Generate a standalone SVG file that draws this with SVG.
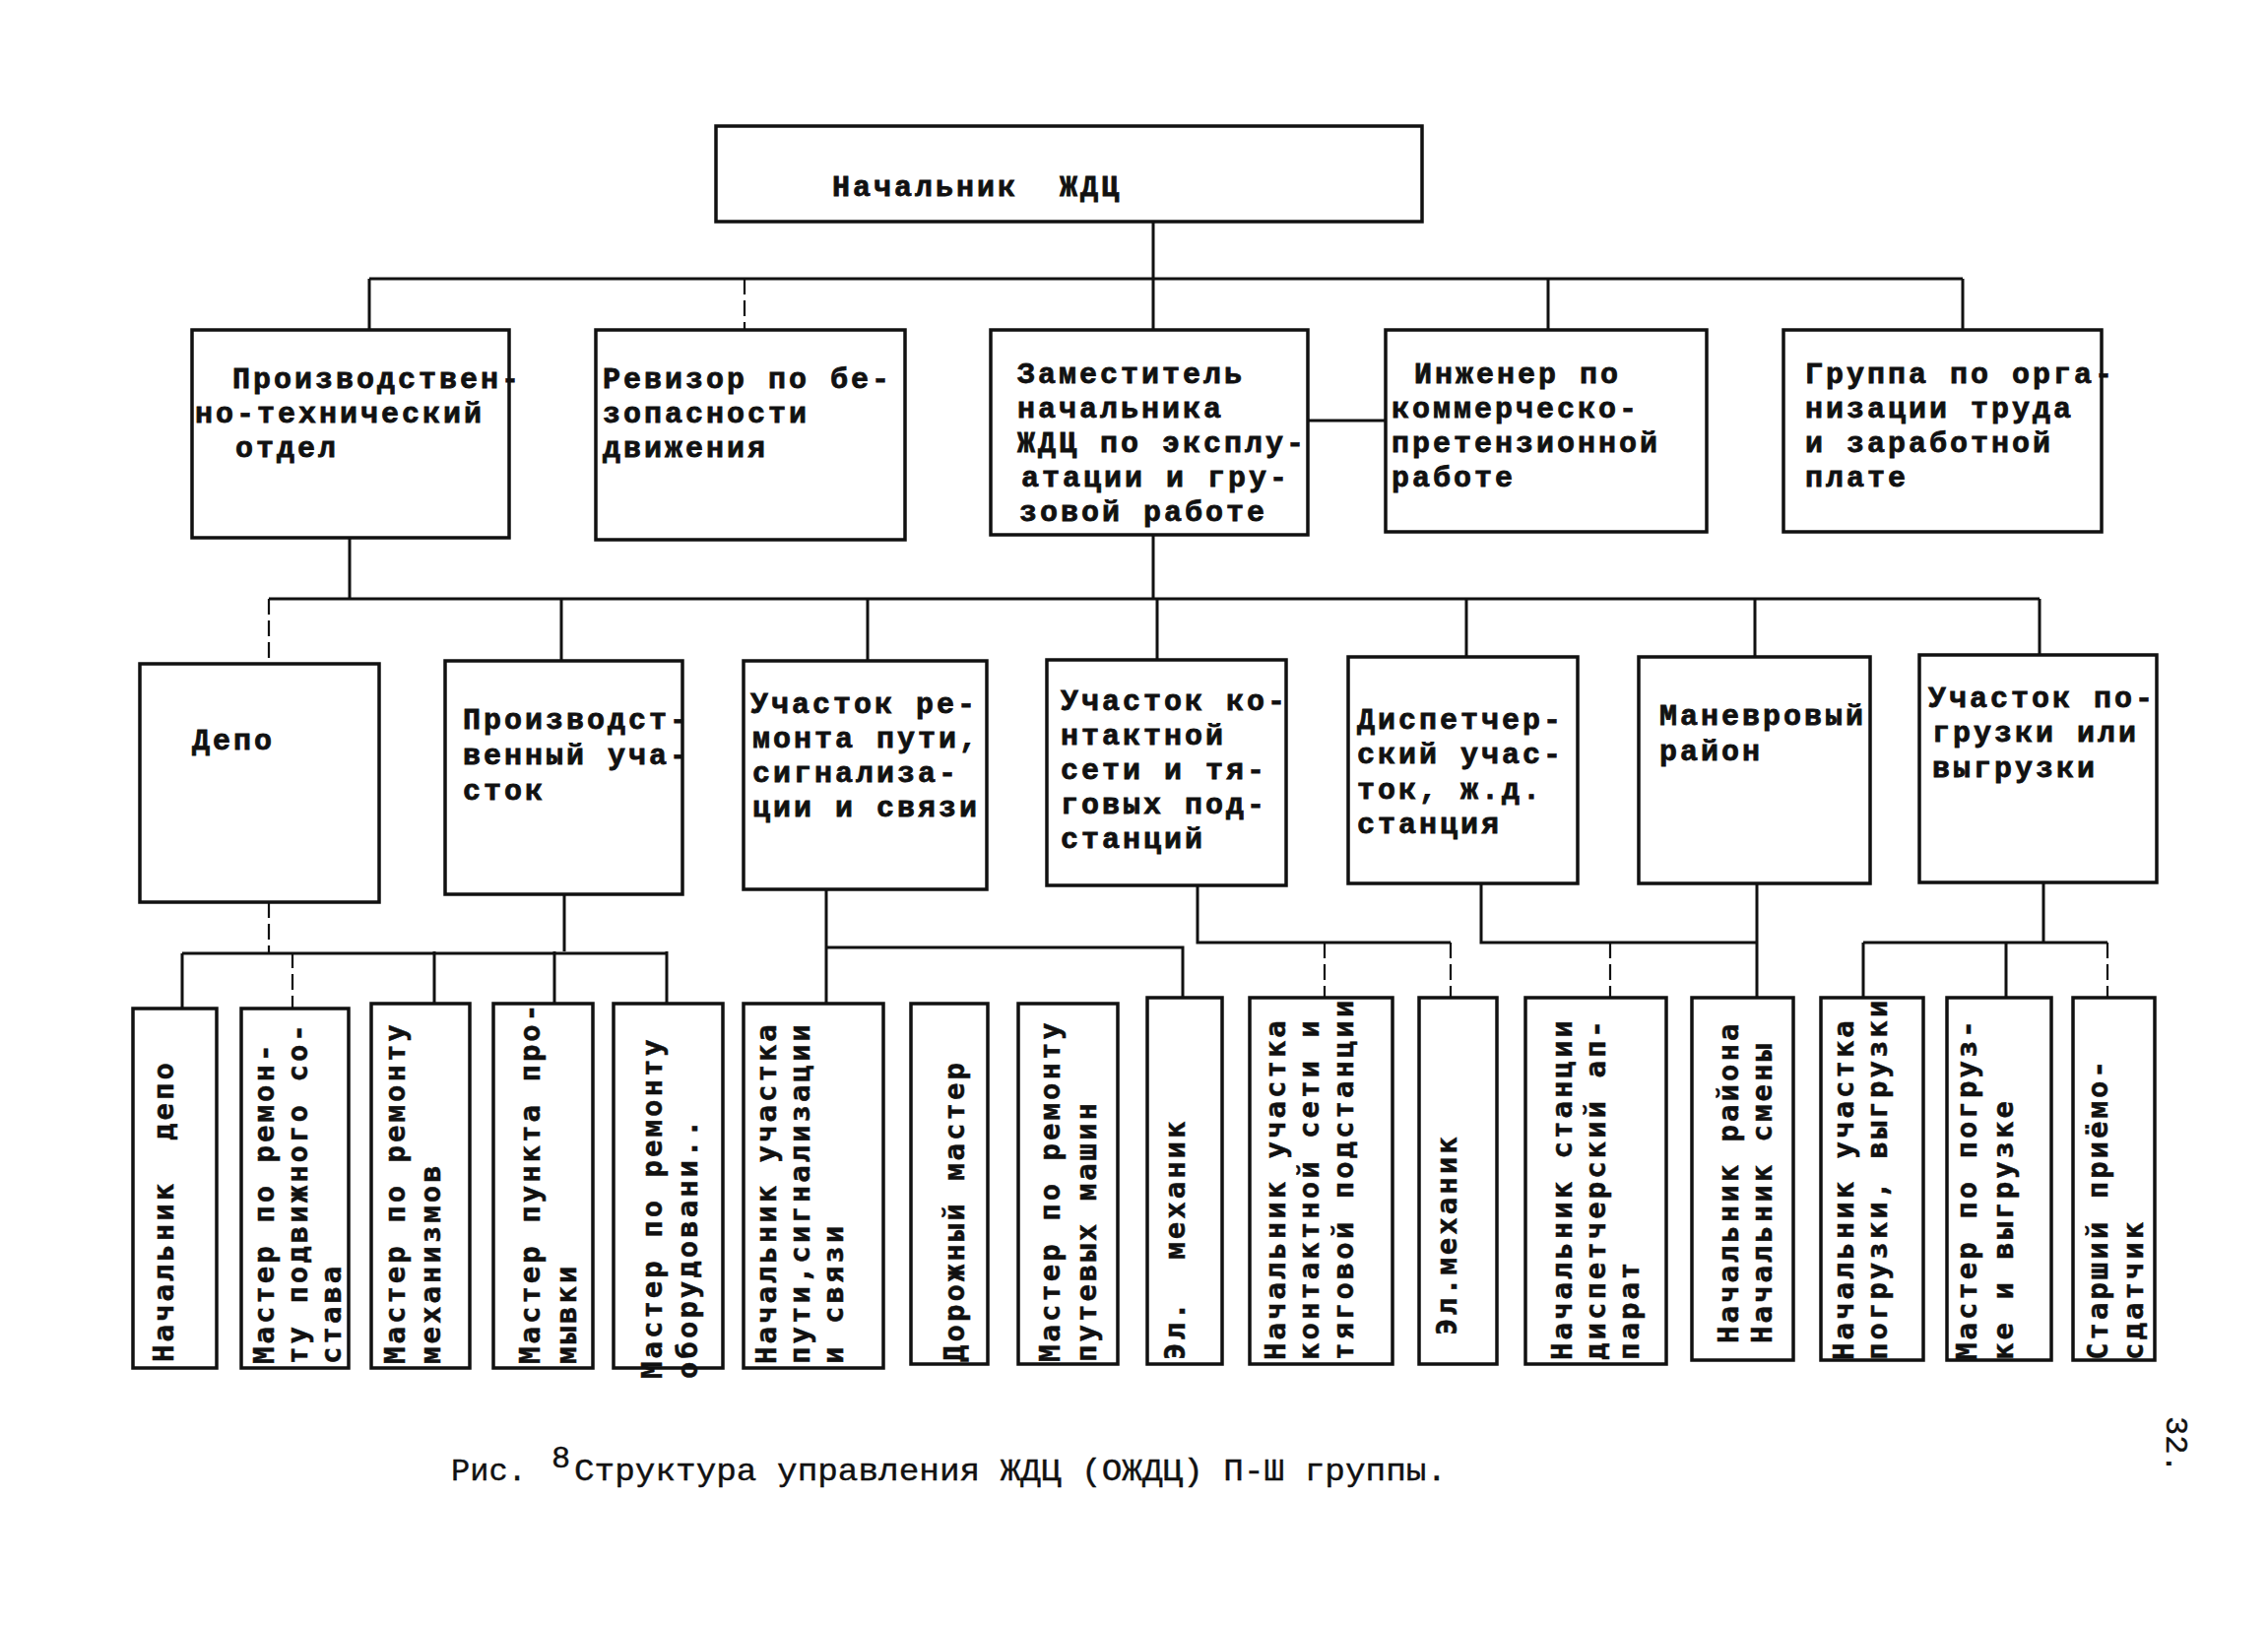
<svg xmlns="http://www.w3.org/2000/svg" width="2303" height="1653" viewBox="0 0 2303 1653">
<style>
.bx{fill:#fff;stroke:#111;stroke-width:3.5}
.ln{stroke:#111;stroke-width:3;fill:none}
.dl{stroke:#111;stroke-width:2.2;stroke-dasharray:16 6;fill:none}
.t{font-family:"Liberation Mono",monospace;font-weight:bold;font-size:30px;letter-spacing:3px;fill:#111;stroke:#111;stroke-width:0.8;white-space:pre}
.v{font-family:"DejaVu Sans Mono",monospace;font-weight:bold;font-size:29px;letter-spacing:3px;fill:#111;stroke:#111;stroke-width:0.5;white-space:pre}
.cap{font-family:"Liberation Mono",monospace;font-size:32px;fill:#111;stroke:#111;stroke-width:0.4;white-space:pre}
</style>
<rect width="2303" height="1653" fill="#fff"/>
<g id="connectors">
<path class="ln" d="M1171 225V283M375 283H1993M375 283V335M1171 283V335M1572 283V335M1993 283V335"/>
<path class="dl" d="M756 283V335"/>
<path class="ln" d="M1328 427H1407"/>
<path class="ln" d="M355 546V608M1171 543V608M273 608H2071M570 608V671M881 608V671M1175 608V670M1489 608V667M1782 608V667M2071 608V665"/>
<path class="dl" d="M273 608V674M273 916V967"/>
<path class="ln" d="M573 908V966M185 968H677M185 968V1024M441 966V1019M563 966V1019M677 966V1019"/>
<path class="dl" d="M297 967V1024"/>
<path class="ln" d="M839 903V1021M839 962H1201V1013"/>
<path class="ln" d="M1216 899V957H1473M1504 897V957H1784M1784 897V1013M2075 896V957M1892 957H2140M1892 957V1013M2037 957V1013"/>
<path class="dl" d="M1345 957V1013M1473 957V1013M1635 957V1013M2140 957V1013"/>
</g>
<g id="n-chief"><rect class="bx" x="727" y="128" width="717" height="97"/><text class="t" x="845" y="199" font-size="34" letter-spacing="1">Начальник  ЖДЦ</text></g>
<g id="n-pto"><rect class="bx" x="195" y="335" width="322" height="211"/><text class="t"><tspan x="236" y="394">Производствен-</tspan><tspan x="198" y="429">но-технический</tspan><tspan x="239" y="464">отдел</tspan></text></g>
<g id="n-reviz"><rect class="bx" x="605" y="335" width="314" height="213"/><text class="t"><tspan x="612" y="394">Ревизор по бе-</tspan><tspan x="612" y="429">зопасности</tspan><tspan x="612" y="464">движения</tspan></text></g>
<g id="n-deputy"><rect class="bx" x="1006" y="335" width="322" height="208"/><text class="t"><tspan x="1033" y="389">Заместитель</tspan><tspan x="1033" y="424">начальника</tspan><tspan x="1033" y="459">ЖДЦ по эксплу-</tspan><tspan x="1037" y="494">атации и гру-</tspan><tspan x="1035" y="529">зовой работе</tspan></text></g>
<g id="n-eng"><rect class="bx" x="1407" y="335" width="326" height="205"/><text class="t"><tspan x="1436" y="389">Инженер по</tspan><tspan x="1413" y="424">коммерческо-</tspan><tspan x="1413" y="459">претензионной</tspan><tspan x="1413" y="494">работе</tspan></text></g>
<g id="n-group"><rect class="bx" x="1811" y="335" width="323" height="205"/><text class="t"><tspan x="1833" y="389">Группа по орга-</tspan><tspan x="1833" y="424">низации труда</tspan><tspan x="1833" y="459">и заработной</tspan><tspan x="1833" y="494">плате</tspan></text></g>
<g id="n-depo"><rect class="bx" x="142" y="674" width="243" height="242"/><text class="t" x="195" y="761">Депо</text></g>
<g id="n-prod"><rect class="bx" x="452" y="671" width="241" height="237"/><text class="t"><tspan x="470" y="740">Производст-</tspan><tspan x="470" y="776">венный уча-</tspan><tspan x="470" y="812">сток</tspan></text></g>
<g id="n-track"><rect class="bx" x="755" y="671" width="247" height="232"/><text class="t"><tspan x="762" y="724">Участок ре-</tspan><tspan x="764" y="759">монта пути,</tspan><tspan x="764" y="794">сигнализа-</tspan><tspan x="764" y="829">ции и связи</tspan></text></g>
<g id="n-contact"><rect class="bx" x="1063" y="670" width="243" height="229"/><text class="t"><tspan x="1077" y="721">Участок ко-</tspan><tspan x="1077" y="756">нтактной</tspan><tspan x="1077" y="791">сети и тя-</tspan><tspan x="1077" y="826">говых под-</tspan><tspan x="1077" y="861">станций</tspan></text></g>
<g id="n-disp"><rect class="bx" x="1369" y="667" width="233" height="230"/><text class="t"><tspan x="1378" y="740">Диспетчер-</tspan><tspan x="1378" y="775">ский учас-</tspan><tspan x="1378" y="811">ток, ж.д.</tspan><tspan x="1378" y="846">станция</tspan></text></g>
<g id="n-shunt"><rect class="bx" x="1664" y="667" width="235" height="230"/><text class="t"><tspan x="1685" y="736">Маневровый</tspan><tspan x="1685" y="772">район</tspan></text></g>
<g id="n-load"><rect class="bx" x="1949" y="665" width="241" height="231"/><text class="t"><tspan x="1958" y="718">Участок по-</tspan><tspan x="1962" y="753">грузки или</tspan><tspan x="1962" y="789">выгрузки</tspan></text></g>
<g id="b1"><rect class="bx" x="135" y="1024" width="85" height="365"/><g transform="translate(0,1383) rotate(-90)"><text class="v" dominant-baseline="central" y="166">Начальник  депо</text></g></g>
<g id="b2"><rect class="bx" x="245" y="1024" width="109" height="365"/><g transform="translate(0,1385) rotate(-90)"><text class="v" dominant-baseline="central" y="268">Мастер по ремон-</text><text class="v" dominant-baseline="central" y="302">ту подвижного со-</text><text class="v" dominant-baseline="central" y="336">става</text></g></g>
<g id="b3"><rect class="bx" x="377" y="1019" width="100" height="370"/><g transform="translate(0,1385) rotate(-90)"><text class="v" dominant-baseline="central" y="401">Мастер по ремонту</text><text class="v" dominant-baseline="central" y="437">механизмов</text></g></g>
<g id="b4"><rect class="bx" x="501" y="1019" width="101" height="370"/><g transform="translate(0,1385) rotate(-90)"><text class="v" dominant-baseline="central" y="538">Мастер пункта про-</text><text class="v" dominant-baseline="central" y="575">мывки</text></g></g>
<g id="b5"><rect class="bx" x="623" y="1019" width="111" height="370"/><g transform="translate(0,1400) rotate(-90)"><text class="v" dominant-baseline="central" y="662">Мастер по ремонту</text><text class="v" dominant-baseline="central" y="698">оборудовани..</text></g></g>
<g id="b6"><rect class="bx" x="755" y="1019" width="142" height="370"/><g transform="translate(0,1385) rotate(-90)"><text class="v" dominant-baseline="central" y="778">Начальник участка</text><text class="v" dominant-baseline="central" y="812">пути,сигнализации</text><text class="v" dominant-baseline="central" y="846">и связи</text></g></g>
<g id="b7"><rect class="bx" x="925" y="1019" width="78" height="366"/><g transform="translate(0,1383) rotate(-90)"><text class="v" dominant-baseline="central" y="969">Дорожный мастер</text></g></g>
<g id="b8"><rect class="bx" x="1034" y="1019" width="101" height="366"/><g transform="translate(0,1383) rotate(-90)"><text class="v" dominant-baseline="central" y="1066">Мастер по ремонту</text><text class="v" dominant-baseline="central" y="1103">путевых машин</text></g></g>
<g id="b9"><rect class="bx" x="1165" y="1013" width="76" height="372"/><g transform="translate(0,1381) rotate(-90)"><text class="v" dominant-baseline="central" y="1193">Эл.  механик</text></g></g>
<g id="b10"><rect class="bx" x="1269" y="1013" width="145" height="372"/><g transform="translate(0,1381) rotate(-90)"><text class="v" dominant-baseline="central" y="1295">Начальник участка</text><text class="v" dominant-baseline="central" y="1329">контактной сети и</text><text class="v" dominant-baseline="central" y="1364">тяговой подстанции</text></g></g>
<g id="b11"><rect class="bx" x="1441" y="1013" width="79" height="372"/><g transform="translate(0,1356) rotate(-90)"><text class="v" dominant-baseline="central" y="1469">Эл.механик</text></g></g>
<g id="b12"><rect class="bx" x="1549" y="1013" width="143" height="372"/><g transform="translate(0,1381) rotate(-90)"><text class="v" dominant-baseline="central" y="1586">Начальник станции</text><text class="v" dominant-baseline="central" y="1620">диспетчерский ап-</text><text class="v" dominant-baseline="central" y="1654">парат</text></g></g>
<g id="b13"><rect class="bx" x="1718" y="1013" width="103" height="368"/><g transform="translate(0,1364) rotate(-90)"><text class="v" dominant-baseline="central" y="1755">Начальник района</text><text class="v" dominant-baseline="central" y="1789">Начальник смены</text></g></g>
<g id="b14"><rect class="bx" x="1849" y="1013" width="104" height="368"/><g transform="translate(0,1381) rotate(-90)"><text class="v" dominant-baseline="central" y="1872">Начальник участка</text><text class="v" dominant-baseline="central" y="1906">погрузки, выгрузки</text></g></g>
<g id="b15"><rect class="bx" x="1977" y="1013" width="106" height="368"/><g transform="translate(0,1381) rotate(-90)"><text class="v" dominant-baseline="central" y="1997">Мастер по погруз-</text><text class="v" dominant-baseline="central" y="2034">ке и выгрузке</text></g></g>
<g id="b16"><rect class="bx" x="2105" y="1013" width="83" height="368"/><g transform="translate(0,1381) rotate(-90)"><text class="v" dominant-baseline="central" y="2130">Старший приёмо-</text><text class="v" dominant-baseline="central" y="2166">сдатчик</text></g></g>
<g id="caption"><text class="cap" x="458" y="1503">Рис.</text><text class="cap" x="560" y="1490" font-size="25">8</text><text class="cap" x="583" y="1503" textLength="886" lengthAdjust="spacingAndGlyphs">Структура управления ЖДЦ (ОЖДЦ) П-Ш группы.</text></g>
<g id="pagenum"><text class="cap" transform="translate(2200,1438) rotate(90)" font-size="34">32.</text></g>
</svg>
